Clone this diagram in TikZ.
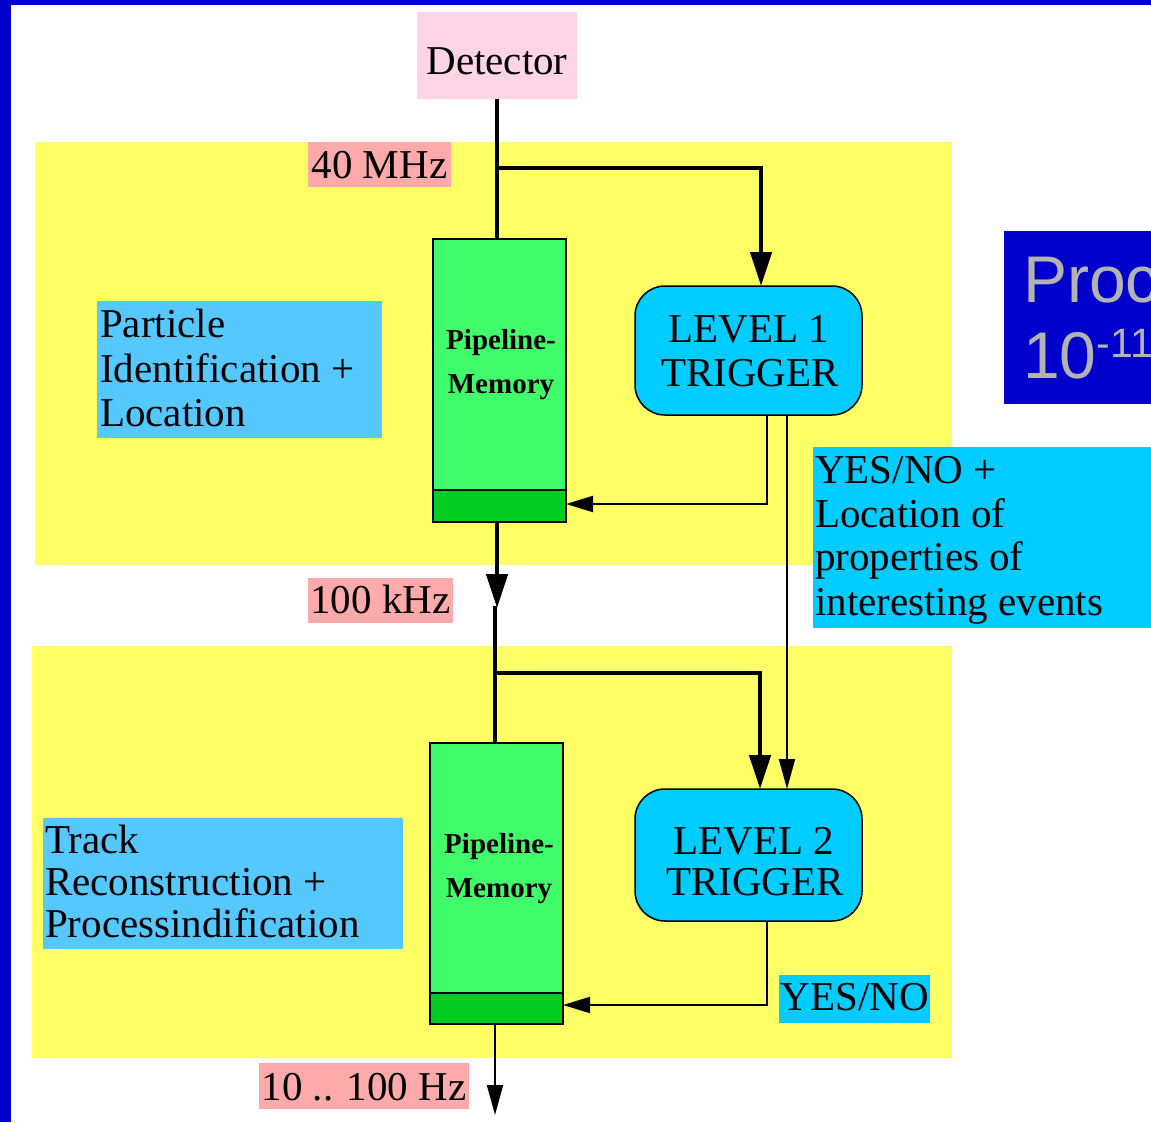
\documentclass[tikz,border=0pt]{standalone}
\usepackage{fontspec}
\setmainfont{Liberation Serif}
\newfontfamily\sansf{Liberation Sans}
\usetikzlibrary{arrows.meta}
\definecolor{frameblue}{HTML}{0000CC}
\definecolor{detpink}{HTML}{FFD5E5}
\definecolor{bgyellow}{HTML}{FFFF66}
\definecolor{ratepink}{HTML}{FFAAAA}
\definecolor{pipegreen}{HTML}{40FC6A}
\definecolor{pipedark}{HTML}{00CC22}
\definecolor{trigcyan}{HTML}{00CCFF}
\definecolor{infoblue}{HTML}{55C8FF}
\definecolor{procgray}{HTML}{B3B3B3}
\begin{document}
\begin{tikzpicture}[x=1pt,y=-1pt,
  box/.style={inner sep=0pt, outer sep=0pt, anchor=north west, draw=none},
  pipebox/.style={box, draw=black, line width=1.5pt, fill=pipegreen},
  trigbox/.style={box, draw=black, line width=1.5pt, fill=trigcyan, rounded corners=30pt},
  txt/.style={inner sep=0pt, anchor=base west, font=\fontsize{41}{44}\selectfont},
  ctxt/.style={inner sep=0pt, anchor=base, font=\fontsize{41}{44}\selectfont},
  pipetxt/.style={inner sep=0pt, anchor=base, font=\fontsize{29}{32}\selectfont\bfseries},
  thickplain/.style={line width=4.5pt},
  thickarrow/.style={line width=4.5pt, -{Triangle[length=34pt,width=21pt]}},
  thinarrow/.style={line width=1.9pt, -{Triangle[length=30pt,width=16pt]}},
  backarrow/.style={line width=1.9pt, -{Triangle[length=27pt,width=16pt]}}
]
\clip (0,0) rectangle (1151,1122);
\fill[white] (0,0) rectangle (1151,1122);
% frame
\fill[frameblue] (0,0) rectangle (11,1122);
\fill[frameblue] (0,0) rectangle (1151,5);
% yellow stages
\fill[bgyellow] (35,142) rectangle (952,565);
\fill[bgyellow] (32,646) rectangle (952,1058);

% detector
\node[box, fill=detpink, minimum width=160pt, minimum height=87pt] (det) at (417,12) {};
\node[ctxt] (dett) at (497,74) {Detector};

% rate labels
\node[box, fill=ratepink, minimum width=143pt, minimum height=45pt] (r40) at (308,142) {};
\node[ctxt] (r40t) at (379.5,178) {40 MHz};
\node[box, fill=ratepink, minimum width=145pt, minimum height=45pt] (r100) at (308,578) {};
\node[ctxt] (r100t) at (380.5,613) {100 kHz};
\node[box, fill=ratepink, minimum width=210pt, minimum height=46pt] (r10) at (259,1063) {};
\node[ctxt] (r10t) at (364,1100) {10 .. 100 Hz};

% info boxes
\node[box, fill=infoblue, minimum width=285pt, minimum height=137pt] (pid) at (97,301) {};
\node[txt] (pid1) at (100,337) {Particle};
\node[txt] (pid2) at (100,382) {Identification +};
\node[txt] (pid3) at (100,426) {Location};

\node[box, fill=infoblue, minimum width=360pt, minimum height=131pt] (trk) at (43,818) {};
\node[txt] (trk1) at (45,853) {Track};
\node[txt] (trk2) at (45,895) {Reconstruction +};
\node[txt] (trk3) at (45,937) {Processindification};

\node[box, fill=trigcyan, minimum width=340pt, minimum height=181pt] (yn1) at (813,447) {};
\node[txt] (yn1a) at (815,483) {YES/NO +};
\node[txt] (yn1b) at (815,527) {Location of};
\node[txt] (yn1c) at (815,570) {properties of};
\node[txt] (yn1d) at (815,615) {interesting events};

\node[box, fill=trigcyan, minimum width=151pt, minimum height=48pt] (yn2) at (779,975) {};
\node[ctxt] (yn2t) at (855,1010) {YES/NO};

% pipelines
\node[pipebox, minimum width=133pt, minimum height=283pt] (p1) at (433,239) {};
\draw[line width=1.5pt, fill=pipedark] (p1.south west) rectangle ([yshift=32pt]p1.south east);
\node[pipetxt] (p1a) at (501,349) {Pipeline-};
\node[pipetxt] (p1b) at (501,393) {Memory};

\node[pipebox, minimum width=133pt, minimum height=281pt] (p2) at (430,743) {};
\draw[line width=1.5pt, fill=pipedark] (p2.south west) rectangle ([yshift=31pt]p2.south east);
\node[pipetxt] (p2a) at (499,853) {Pipeline-};
\node[pipetxt] (p2b) at (499,897) {Memory};

% triggers
\node[trigbox, minimum width=227pt, minimum height=129pt] (l1) at (635,286) {};
\node[ctxt] (l1a) at (749,342) {LEVEL 1};
\node[ctxt] (l1b) at (750,386) {TRIGGER};

\node[trigbox, minimum width=227pt, minimum height=132pt] (l2) at (635,789) {};
\node[ctxt] (l2a) at (754,854) {LEVEL 2};
\node[ctxt] (l2b) at (755,895) {TRIGGER};

% processing box
\node[box, fill=frameblue, minimum width=150pt, minimum height=173pt] (proc) at (1004,231) {};
\node[inner sep=0pt, anchor=base west, text=procgray, font=\sansf\fontsize{66}{70}\selectfont] (proct) at (1023,302) {Proc};
\node[inner sep=0pt, anchor=base west, text=procgray, font=\sansf\fontsize{66}{70}\selectfont] (procn) at (1023,378) {10\raisebox{21pt}{\fontsize{41}{41}\selectfont -11}};

% connection points
\coordinate (b1) at (497,168);
\coordinate (l1in) at (761,286);
\coordinate (mid) at (497,608);
\coordinate (mid2) at (495,606);
\coordinate (b2) at (495,673);
\coordinate (l2in) at (760,789);
\coordinate (l2in2) at (787,789);
\coordinate (l1out) at (787,415);
\coordinate (fb1s) at (767,415);
\coordinate (fb1e) at (566,504);
\coordinate (fb2s) at (767,921);
\coordinate (fb2e) at (563,1005);
\coordinate (outs) at (495,1024);
\coordinate (oute) at (495,1115);

% connectors
\draw[thickplain] (det.south) -- (det.south |- p1.north);
\draw[thickarrow] (b1) -| (l1in);
\draw[thickarrow] (det.south |- p1.south) -- (mid);
\draw[thickplain] (mid2) -- (mid2 |- p2.north);
\draw[thickarrow] (b2) -| (l2in);
\draw[backarrow] (fb1s) |- (fb1e);
\draw[thinarrow] (l1out) -- (l2in2);
\draw[backarrow] (fb2s) |- (fb2e);
\draw[thinarrow] (outs) -- (oute);
\end{tikzpicture}
\end{document}
